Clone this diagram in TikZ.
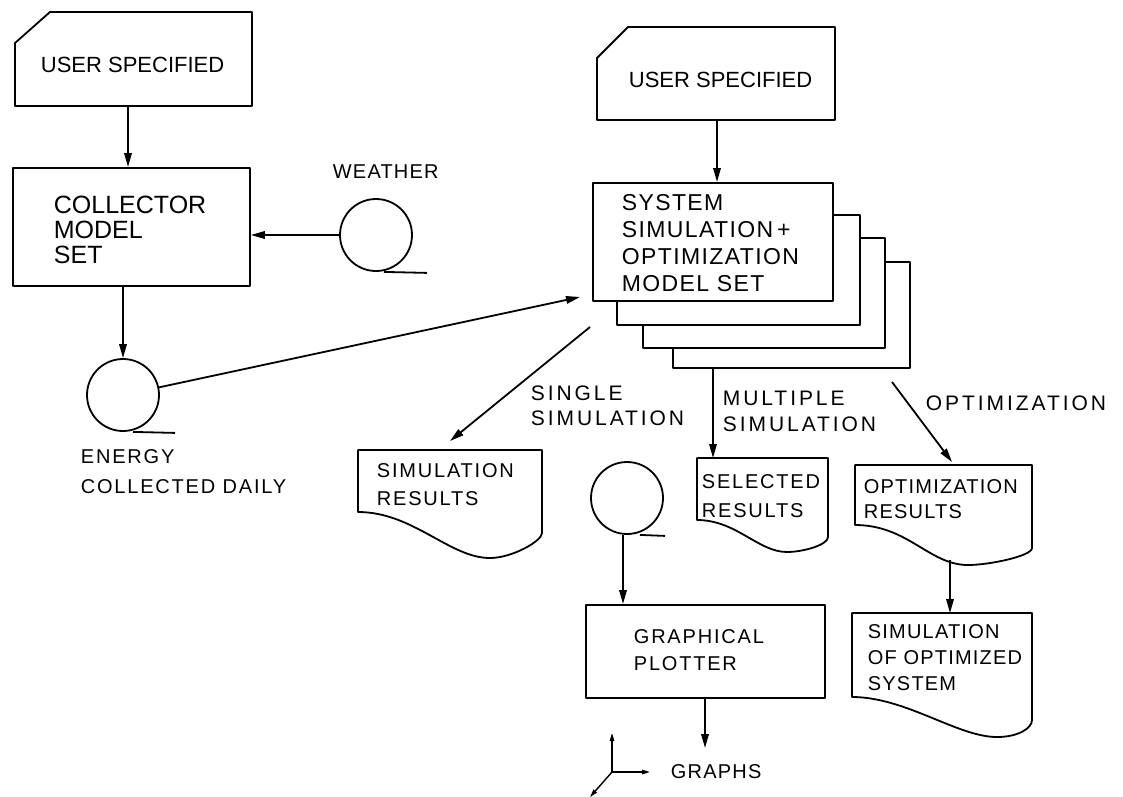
\documentclass[tikz,border=0pt]{standalone}
\usepackage{fontspec}
\setmainfont{Liberation Sans}
\newfontfamily\fA{Liberation Sans}
\newfontfamily\fB{Liberation Sans}[LetterSpace=6]
\newfontfamily\fC{Liberation Sans}[LetterSpace=9]
\newfontfamily\fD{Liberation Sans}[LetterSpace=14]
\usetikzlibrary{arrows.meta}
\newcommand\mydoc[7]{%
  \draw (#1,#2) -- (#3,#2) -- (#3,#7)
    .. controls (#3,{#7+8}) and ({#5+0.12*(#3-#1)},#6) .. (#5,#6)
    .. controls ({#5-0.22*(#3-#1)},#6) and ({#1+0.3*(#3-#1)},#4) .. (#1,#4) -- cycle;}
\begin{document}
\begin{tikzpicture}[x=1pt,y=-1pt,line width=1.8pt,line join=round,
  arr/.style={-{Triangle[length=14pt,width=7.5pt]}},
  smallarr/.style={-{Triangle[length=8pt,width=4.5pt]},line width=1.4pt},
  lbl/.style={inner sep=0pt,anchor=north west,align=left},
  tape/.style={draw,circle,minimum size=72pt,inner sep=0pt},
  box/.style={draw,inner sep=0pt,anchor=north west}]
\useasboundingbox[fill=white] (0,0) rectangle (1123,796);

% ---- left column ----
\draw (15,43) -- (50,12) -- (252,12) -- (252,106) -- (15,106) -- cycle;
\node[lbl,font=\fA\fontsize{22}{26}\selectfont] (ucL) at (40,56) {USER SPECIFIED};
\coordinate (ucLs) at (128,106);

\node[box,minimum width=237pt,minimum height=118pt] (coll) at (12,167) {};
\node[lbl,font=\fA\fontsize{25}{25}\selectfont] (collt) at (53,195) {COLLECTOR\\MODEL\\SET};
\draw[arr] (ucLs) -- (ucLs |- coll.north);

\node[tape] (wea) at (376,235) {};
\draw ([xshift=8pt]wea.south) -- ++(43,1);
\node[lbl,font=\fB\fontsize{20}{24}\selectfont] (weat) at (332,164) {WEATHER};
\draw[arr] (wea.west) -- (wea.west -| coll.east);

\node[tape] (en) at (123,395) {};
\draw ([xshift=10pt]en.south) -- ++(42,1);
\node[lbl,font=\fC\fontsize{20}{30}\selectfont] (ent) at (80,449) {ENERGY\\COLLECTED DAILY};
\draw[arr] (en.north |- coll.south) -- (en.north);

% ---- system ----
\draw (597,58) -- (628,27) -- (835,27) -- (835,120) -- (597,120) -- cycle;
\node[lbl,font=\fA\fontsize{22}{26}\selectfont] (ucR) at (628,71) {USER SPECIFIED};
\coordinate (ucRs) at (717,120);

\node[box,minimum width=240pt,minimum height=118pt] (sys) at (592,182) {};
\node[lbl,font=\fB\fontsize{23}{27}\selectfont] (syst) at (621,194) {SYSTEM\\SIMULATION\,+\\OPTIMIZATION\\MODEL SET};
\draw[arr] (ucRs) -- (ucRs |- sys.north);
\draw (617,300) -- (617,325) -- (860,325) -- (860,215) -- (832,215);
\draw (643,325) -- (643,348) -- (885,348) -- (885,238) -- (860,238);
\draw (673,348) -- (673,368) -- (910,368) -- (910,262) -- (885,262);

\coordinate (sysin) at (580,297);
\draw[arr] (en.12) -- (sysin);

% ---- outputs ----
\coordinate (sgs) at (590,327);
\coordinate (sge) at (450,441);
\draw[arr] (sgs) -- (sge);
\node[lbl,font=\fD\fontsize{21}{25}\selectfont] (sgt) at (530,385) {SINGLE\\SIMULATION};

\coordinate (mus) at (713,368);
\coordinate (mue) at (713,458);
\draw[arr] (mus) -- (mue);
\node[lbl,font=\fD\fontsize{21}{26}\selectfont] (mut) at (722,390) {MULTIPLE\\SIMULATION};

\coordinate (ops) at (892,382);
\coordinate (ope) at (952,462);
\draw[arr] (ops) -- (ope);
\node[lbl,font=\fD\fontsize{21}{25}\selectfont] (opt) at (925,395) {OPTIMIZATION};

\mydoc{358}{450}{542}{512}{490}{558}{533}
\node[lbl,font=\fC\fontsize{20}{28}\selectfont] (srt) at (376,463) {SIMULATION\\RESULTS};

\mydoc{697}{458}{828}{520}{787}{552}{537}
\node[lbl,font=\fC\fontsize{20}{29}\selectfont] (set) at (701,474) {SELECTED\\RESULTS};

\mydoc{855}{465}{1032}{525}{968}{565}{548}
\node[lbl,font=\fB\fontsize{20}{25}\selectfont] (ort) at (863,479) {OPTIMIZATION\\RESULTS};

\mydoc{852}{613}{1032}{697}{997}{737}{720}
\node[lbl,font=\fB\fontsize{20}{26}\selectfont] (sot) at (867,624) {SIMULATION\\OF OPTIMIZED\\SYSTEM};

\coordinate (ors) at (950,560);
\coordinate (soe) at (950,613);
\draw[arr] (ors) -- (soe);

% ---- plotter ----
\node[tape] (pt) at (627,498) {};
\draw ([xshift=13pt]pt.south) -- ++(25,1);
\node[box,minimum width=239pt,minimum height=93pt] (plot) at (585,604) {};
\node[lbl,font=\fC\fontsize{20}{27}\selectfont] (plt) at (633,629) {GRAPHICAL\\PLOTTER};
\draw[arr] ([xshift=-4pt]pt.south) -- ([xshift=-4pt]pt.south |- plot.north);

\coordinate (gtip) at (705,748);
\draw[arr] (gtip |- plot.south) -- (gtip);
\node[lbl,font=\fB\fontsize{20}{24}\selectfont] (gr) at (670,764) {GRAPHS};
\coordinate (ax) at (612,772);
\draw[smallarr] (ax) -- ++(0,-39);
\draw[smallarr] (ax) -- ++(38,0);
\draw[smallarr] (ax) -- ++(-22,25);
\end{tikzpicture}
\end{document}
